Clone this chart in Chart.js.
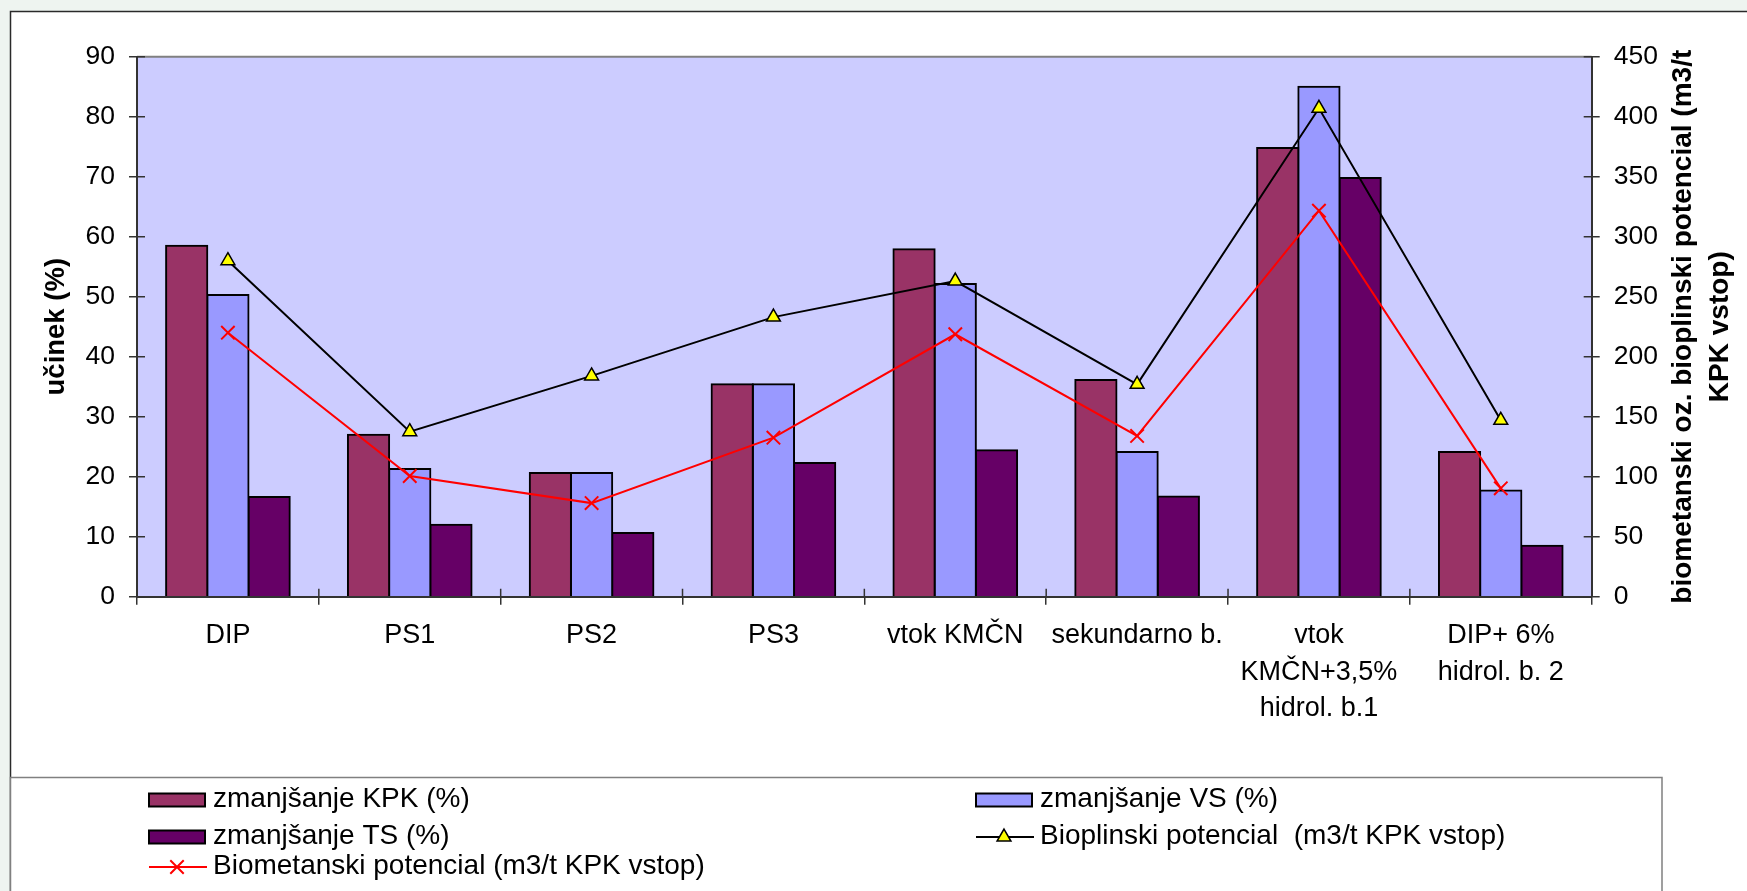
<!DOCTYPE html>
<html>
<head>
<meta charset="utf-8">
<script src="https://cdn.jsdelivr.net/npm/chart.js@4.4.0/dist/chart.umd.min.js"></script>
<style>
  html, body { margin: 0; padding: 0; background: #eef4f0; }
  canvas { display: block; }
</style>
</head>
<body>
<canvas id="chart" width="1747" height="891"></canvas>
<script>
// Categories (multi-line labels are arrays)
const categories = [
  "DIP", "PS1", "PS2", "PS3", "vtok KMČN", "sekundarno b.",
  ["vtok", "KMČN+3,5%", "hidrol. b.1"],
  ["DIP+ 6%", "hidrol. b. 2"]
];

// Left axis series: učinek (%)
const kpkReduction = [58.5, 27.0, 20.6, 35.4, 57.9, 36.1, 74.8, 24.1];
const vsReduction  = [50.3, 21.3, 20.6, 35.4, 52.1, 24.1, 85.0, 17.7];
const tsReduction  = [16.6, 12.0, 10.6, 22.3, 24.4, 16.7, 69.8, 8.5];

// Right axis series: m3/t KPK vstop
const biogasPotential     = [280, 137.5, 184, 233, 263, 177, 407, 147];
const biomethanePotential = [220, 100.6, 78, 132.5, 218.7, 134, 321.7, 90.3];

// Axis ranges
const leftAxisRange  = [0, 90, 10];
const rightAxisRange = [0, 450, 50];

// Series names
const seriesNames = [
  "zmanjšanje KPK (%)",
  "zmanjšanje VS (%)",
  "zmanjšanje TS (%)",
  "Bioplinski potencial  (m3/t KPK vstop)",
  "Biometanski potencial (m3/t KPK vstop)"
];

const FONT = "'Liberation Sans', Arial, sans-serif";

// Frame, plot background, crossing tick marks, axis titles and legend
const decorations = {
  id: 'decorations',
  beforeDraw(chart) {
    const { ctx, chartArea: a, width, height } = chart;
    ctx.save();
    ctx.fillStyle = '#eef4f0';
    ctx.fillRect(0, 0, width, height);
    ctx.fillStyle = '#ffffff';
    ctx.fillRect(10.5, 11.5, width, height);
    ctx.strokeStyle = '#2a2a2a';
    ctx.lineWidth = 1.5;
    ctx.beginPath();
    ctx.moveTo(10.5, height + 2);
    ctx.lineTo(10.5, 11.5);
    ctx.lineTo(width + 2, 11.5);
    ctx.stroke();
    ctx.fillStyle = '#ccccff';
    ctx.fillRect(a.left, a.top, a.right - a.left, a.bottom - a.top);
    ctx.strokeStyle = '#808080';
    ctx.lineWidth = 2;
    ctx.beginPath();
    ctx.moveTo(a.left, a.top);
    ctx.lineTo(a.right, a.top);
    ctx.stroke();
    ctx.restore();
  },
  afterDraw(chart) {
    const { ctx, chartArea: a, scales } = chart;
    ctx.save();

    // inner halves of the tick marks
    ctx.strokeStyle = '#333333';
    ctx.lineWidth = 1.5;
    ctx.beginPath();
    scales.y.ticks.forEach(t => {
      const py = scales.y.getPixelForValue(t.value);
      ctx.moveTo(a.left, py); ctx.lineTo(a.left + 8, py);
    });
    scales.y1.ticks.forEach(t => {
      const py = scales.y1.getPixelForValue(t.value);
      ctx.moveTo(a.right - 8, py); ctx.lineTo(a.right, py);
    });
    const n = chart.data.labels.length;
    for (let i = 1; i < n; i++) {
      const px = (scales.x.getPixelForValue(i - 1) + scales.x.getPixelForValue(i)) / 2;
      ctx.moveTo(px, a.bottom - 8); ctx.lineTo(px, a.bottom);
    }
    ctx.stroke();

    // axis titles
    const midY = (a.top + a.bottom) / 2;
    ctx.fillStyle = '#000';
    ctx.textAlign = 'center';
    ctx.textBaseline = 'middle';
    ctx.font = `bold 27.5px ${FONT}`;
    ctx.save();
    ctx.translate(56, midY);
    ctx.rotate(-Math.PI / 2);
    ctx.fillText('učinek (%)', 0, 0);
    ctx.restore();
    ctx.font = `bold 28px ${FONT}`;
    [['biometanski oz. bioplinski potencial (m3/t', 1683], ['KPK vstop)', 1720]].forEach(([txt, x]) => {
      ctx.save();
      ctx.translate(x, midY);
      ctx.rotate(-Math.PI / 2);
      ctx.fillText(txt, 0, 0);
      ctx.restore();
    });

    // legend box
    ctx.strokeStyle = '#808080';
    ctx.lineWidth = 1.5;
    ctx.fillStyle = '#ffffff';
    ctx.fillRect(10.5, 777.5, 1662 - 10.5, 120);
    ctx.beginPath();
    ctx.moveTo(10.5, 900); ctx.lineTo(10.5, 777.5); ctx.lineTo(1662, 777.5); ctx.lineTo(1662, 900);
    ctx.stroke();

    const ds = chart.data.datasets;
    const entries = [
      { d: ds[0], x: 149, y: 800, kind: 'box' },
      { d: ds[1], x: 976, y: 800, kind: 'box' },
      { d: ds[2], x: 149, y: 837, kind: 'box' },
      { d: ds[3], x: 976, y: 837, kind: 'line' },
      { d: ds[4], x: 149, y: 867, kind: 'line' }
    ];
    ctx.font = `28px ${FONT}`;
    ctx.textAlign = 'left';
    ctx.textBaseline = 'alphabetic';
    entries.forEach(e => {
      if (e.kind === 'box') {
        ctx.fillStyle = e.d.backgroundColor;
        ctx.fillRect(e.x, e.y - 6.5, 56, 13);
        ctx.strokeStyle = '#000';
        ctx.lineWidth = 2;
        ctx.strokeRect(e.x, e.y - 6.5, 56, 13);
      } else {
        ctx.strokeStyle = e.d.borderColor;
        ctx.lineWidth = 2;
        ctx.beginPath();
        ctx.moveTo(e.x, e.y); ctx.lineTo(e.x + 58, e.y);
        ctx.stroke();
        ctx.fillStyle = e.d.pointBackgroundColor;
        ctx.strokeStyle = e.d.pointBorderColor;
        ctx.lineWidth = e.d.pointBorderWidth;
        Chart.helpers.drawPoint(ctx, {
          pointStyle: e.d.pointStyle,
          radius: e.d.pointRadius,
          borderWidth: e.d.pointBorderWidth,
          rotation: 0
        }, e.x + 28, e.y);
      }
      ctx.fillStyle = '#000';
      ctx.fillText(e.d.label, e.x + 64, e.y + 7);
    });
    ctx.restore();
  }
};

const barStyle = {
  borderColor: '#000000',
  borderWidth: 2,
  inflateAmount: 1,
  categoryPercentage: 0.68,
  barPercentage: 1.0,
  yAxisID: 'y',
  order: 2
};

new Chart(document.getElementById('chart'), {
  data: {
    labels: categories,
    datasets: [
      { type: 'bar', label: seriesNames[0], data: kpkReduction, backgroundColor: '#993366', ...barStyle },
      { type: 'bar', label: seriesNames[1], data: vsReduction,  backgroundColor: '#9999ff', ...barStyle },
      { type: 'bar', label: seriesNames[2], data: tsReduction,  backgroundColor: '#660066', ...barStyle },
      {
        type: 'line', label: seriesNames[3], data: biogasPotential, yAxisID: 'y1', order: 0,
        borderColor: '#000000', borderWidth: 2, tension: 0, fill: false,
        pointStyle: 'triangle', pointRadius: 8, pointBackgroundColor: '#ffff00',
        pointBorderColor: '#000000', pointBorderWidth: 1.5
      },
      {
        type: 'line', label: seriesNames[4], data: biomethanePotential, yAxisID: 'y1', order: 1,
        borderColor: '#ff0000', borderWidth: 2, tension: 0, fill: false,
        pointStyle: 'crossRot', pointRadius: 9.5, pointBackgroundColor: '#ff0000',
        pointBorderColor: '#ff0000', pointBorderWidth: 2
      }
    ]
  },
  options: {
    responsive: false,
    animation: false,
    devicePixelRatio: 1,
    layout: { padding: { top: 56.7, left: 0, right: 0, bottom: 0 } },
    plugins: { legend: { display: false }, tooltip: { enabled: false } },
    scales: {
      x: {
        offset: true,
        grid: { display: true, drawOnChartArea: false, drawTicks: true, tickLength: 8, color: '#333333', lineWidth: 1.5, offset: true },
        border: { display: true, color: '#333333', width: 2 },
        ticks: {
          autoSkip: false, maxRotation: 0, minRotation: 0, padding: 13, color: '#000',
          font: { family: FONT, size: 27, lineHeight: 1.352 }
        },
        afterFit(scale) { scale.height = 891 - 596.7; }
      },
      y: {
        position: 'left',
        min: leftAxisRange[0], max: leftAxisRange[1],
        grid: { display: true, drawOnChartArea: false, drawTicks: true, tickLength: 8, color: '#333333', lineWidth: 1.5 },
        border: { display: true, color: '#333333', width: 2 },
        ticks: { stepSize: leftAxisRange[2], padding: 14, color: '#000', font: { family: FONT, size: 26.5 } },
        afterFit(scale) { scale.width = 137; }
      },
      y1: {
        position: 'right',
        min: rightAxisRange[0], max: rightAxisRange[1],
        grid: { display: true, drawOnChartArea: false, drawTicks: true, tickLength: 8, color: '#333333', lineWidth: 1.5 },
        border: { display: true, color: '#333333', width: 2 },
        ticks: { stepSize: rightAxisRange[2], padding: 14, color: '#000', font: { family: FONT, size: 26.5 } },
        afterFit(scale) { scale.width = 1747 - 1591.7; }
      }
    }
  },
  plugins: [decorations]
});
</script>
</body>
</html>
